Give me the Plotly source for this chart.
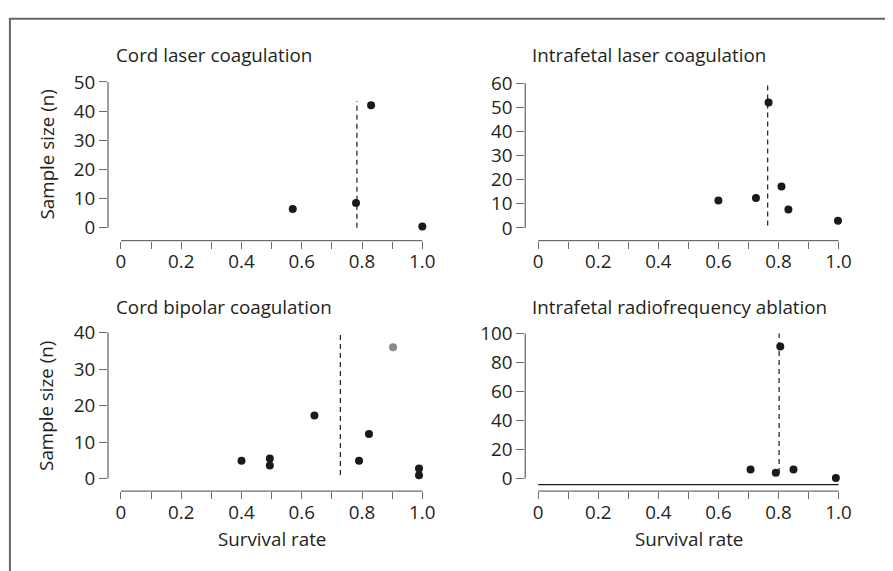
import plotly.graph_objects as go

W, H = 893, 571

# ---- data ----
titles = ["Cord laser coagulation", "Intrafetal laser coagulation",
          "Cord bipolar coagulation", "Intrafetal radiofrequency ablation"]

p1_x = [0.57, 0.78, 0.83, 1.00]
p1_y = [6.5, 8.5, 42, 0.5]
p1_mean = 0.783
p1_mean_span = [0, 43.5]

p2_x = [0.60, 0.725, 0.767, 0.81, 0.833, 0.998]
p2_y = [11.4, 12.4, 52, 17.2, 7.6, 3.0]
p2_mean = 0.764
p2_mean_span = [1, 60]

p3_x = [0.40, 0.494, 0.494, 0.642, 0.79, 0.823, 0.989, 0.989]
p3_y = [4.9, 5.5, 3.6, 17.3, 4.9, 12.2, 2.8, 0.9]
p3_gray_x = [0.903]
p3_gray_y = [36]
p3_mean = 0.728
p3_mean_span = [1, 40]

p4_x = [0.707, 0.791, 0.806, 0.85, 0.991]
p4_y = [6.3, 4.1, 91, 6.3, 0.4]
p4_mean = 0.802
p4_mean_span = [3.8, 100]
p4_ref_y = -4.1

y_ticks = [[0, 10, 20, 30, 40, 50], [0, 10, 20, 30, 40, 50, 60],
           [0, 10, 20, 30, 40], [0, 20, 40, 60, 80, 100]]
x_ticks = [0, 0.1, 0.2, 0.3, 0.4, 0.5, 0.6, 0.7, 0.8, 0.9, 1.0]
x_ticklabels = ["0", "", "0.2", "", "0.4", "", "0.6", "", "0.8", "", "1.0"]

# ---- layout geometry (pixels) ----
FONT = "Open Sans"
FS = 18.8
TXT = "#231f20"
AX = "#6d6d6d"
PT = "#1a1a1a"

col_lr = [(109, 431), (530, 851)]
row_tb = [(70, 236), (324, 490)]
y_ranges = [[-4.4, 51.7], [-5.3, 62.6], [-3.43, 41.4], [-8.62, 104.1]]
x_range = [-0.043, 1.016]

fig = go.Figure()

panels = [
    (p1_x, p1_y, p1_mean, p1_mean_span),
    (p2_x, p2_y, p2_mean, p2_mean_span),
    (p3_x, p3_y, p3_mean, p3_mean_span),
    (p4_x, p4_y, p4_mean, p4_mean_span),
]

for i, (xs, ys, m, span) in enumerate(panels):
    r, c = divmod(i, 2)
    sfx = "" if i == 0 else str(i + 1)
    xa, ya = "x" + sfx, "y" + sfx
    fig.add_trace(go.Scatter(x=[m, m], y=span, mode="lines", xaxis=xa, yaxis=ya,
                             line=dict(color=PT, width=1.2, dash="5px,4px"),
                             hoverinfo="skip", showlegend=False))
    fig.add_trace(go.Scatter(x=xs, y=ys, mode="markers", xaxis=xa, yaxis=ya,
                             marker=dict(color=PT, size=8), cliponaxis=False,
                             showlegend=False))
    l, rgt = col_lr[c]
    t, b = row_tb[r]
    fig.layout["xaxis" + sfx] = dict(
        domain=[l / W, rgt / W], range=x_range, anchor=ya,
        tickvals=x_ticks, ticktext=x_ticklabels, ticks="outside", ticklen=7,
        tickwidth=1.3, tickcolor=AX, showline=False, showgrid=False, zeroline=False,
        ticklabelstandoff=-3,
        tickfont=dict(family=FONT, size=FS, color=TXT), fixedrange=True)
    fig.layout["yaxis" + sfx] = dict(
        domain=[1 - b / H, 1 - t / H], range=y_ranges[i], anchor=xa,
        tickvals=y_ticks[i], ticks="outside", ticklen=8, tickwidth=1.3, tickcolor=AX,
        showline=False, showgrid=False, zeroline=False,
        tickfont=dict(family=FONT, size=FS, color=TXT), fixedrange=True)
    fig.add_shape(type="line", xref=xa, yref=ya + " domain", x0=0, x1=1, y0=0, y1=0,
                  line=dict(color=AX, width=1.3))
    fig.add_shape(type="line", xref=xa + " domain", yref=ya, x0=0, x1=0,
                  y0=y_ticks[i][0], y1=y_ticks[i][-1], line=dict(color=AX, width=1.3))
    fig.add_annotation(text=titles[i], xref="paper", yref="paper",
                       x=(115 if c == 0 else 535) / W, y=1 - (48 if r == 0 else 303) / H,
                       xanchor="left", yanchor="middle", showarrow=False,
                       font=dict(family=FONT, size=FS, color=TXT))

fig.add_trace(go.Scatter(x=p3_gray_x, y=p3_gray_y, mode="markers", xaxis="x3", yaxis="y3",
                         marker=dict(color="#8a8a8a", size=8), showlegend=False))
fig.add_trace(go.Scatter(x=[0, 1], y=[p4_ref_y, p4_ref_y], mode="lines", xaxis="x4",
                         yaxis="y4", line=dict(color=PT, width=1.2), hoverinfo="skip",
                         showlegend=False))

for yc in (149, 404):
    fig.add_annotation(text="Sample size (n)", xref="paper", yref="paper",
                       x=47 / W, y=1 - yc / H, textangle=-90, showarrow=False,
                       xanchor="center", yanchor="middle",
                       font=dict(family=FONT, size=FS, color=TXT))
for xc in (274, 695):
    fig.add_annotation(text="Survival rate", xref="paper", yref="paper",
                       x=xc / W, y=1 - 539 / H, showarrow=False,
                       xanchor="center", yanchor="middle",
                       font=dict(family=FONT, size=FS, color=TXT))

fig.add_shape(type="line", xref="paper", yref="paper", x0=9 / W, x1=1, y0=1 - 11 / H,
              y1=1 - 11 / H, line=dict(color="#666666", width=2))
fig.add_shape(type="line", xref="paper", yref="paper", x0=10 / W, x1=10 / W, y0=0,
              y1=1 - 11 / H, line=dict(color="#666666", width=2))

fig.update_layout(width=W, height=H, margin=dict(l=0, r=0, t=0, b=0),
                  paper_bgcolor="white", plot_bgcolor="white", showlegend=False)

fig.write_html("out.html")
